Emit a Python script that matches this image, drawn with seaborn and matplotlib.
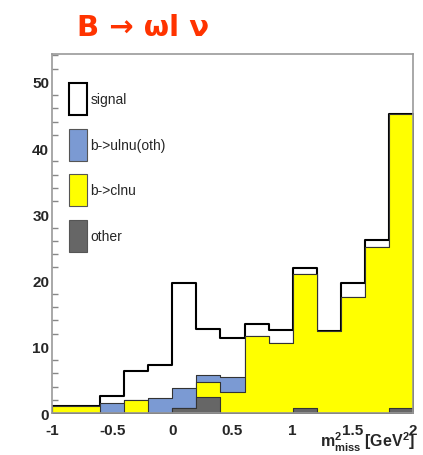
import numpy as np
import pandas as pd
import matplotlib
matplotlib.use("Agg")
import matplotlib.pyplot as plt
from matplotlib.patches import Patch
from matplotlib.ticker import MultipleLocator
import seaborn as sns

# ---- data ----
bin_edges = [-1.0, -0.8, -0.6, -0.4, -0.2, 0.0, 0.2, 0.4, 0.6, 0.8, 1.0, 1.2, 1.4, 1.6, 1.8, 2.0]
signal = [0, 0, 1.1, 4.4, 5.0, 16.0, 7.0, 5.9, 1.9, 1.9, 0.9, 0, 2.1, 1.0, 0]
b_ulnu = [0, 0, 1.5, 0, 2.2, 3.0, 1.0, 2.2, 0, 0, 0, 0, 0, 0, 0]
b_clnu = [1.0, 1.0, 0, 1.9, 0, 0, 2.3, 3.2, 11.6, 10.6, 20.3, 12.4, 17.5, 25.1, 44.5]
other = [0, 0, 0, 0, 0, 0.7, 2.4, 0, 0, 0, 0.7, 0, 0, 0, 0.7]
labels = ["signal", "b->ulnu(oth)", "b->clnu", "other"]
colors = ["white", "#7b9ad3", "#ffff00", "#666666"]
y_ticks = [0, 10, 20, 30, 40, 50]
x_ticks = [-1, -0.5, 0, 0.5, 1, 1.5, 2]
x_tick_labels = ["-1", "-0.5", "0", "0.5", "1", "1.5", "2"]

sns.set_style("white")
plt.rcParams["font.family"] = ["Liberation Sans", "DejaVu Sans"]
plt.rcParams["mathtext.fontset"] = "custom"
plt.rcParams["mathtext.rm"] = "Liberation Sans:bold"
plt.rcParams["mathtext.it"] = "Liberation Sans:bold"
plt.rcParams["mathtext.bf"] = "Liberation Sans:bold"

edges = np.array(bin_edges)
centers = (edges[:-1] + edges[1:]) / 2
df = pd.DataFrame({"x": centers, "signal": signal, "ulnu": b_ulnu,
                   "clnu": b_clnu, "other": other})
# cumulative stack (bottom: other, then clnu, ulnu, signal on top)
df["lvl_other"] = df["other"]
df["lvl_clnu"] = df["lvl_other"] + df["clnu"]
df["lvl_ulnu"] = df["lvl_clnu"] + df["ulnu"]
df["lvl_signal"] = df["lvl_ulnu"] + df["signal"]

fig = plt.figure(figsize=(4.23, 4.56), dpi=100)
ax = fig.add_axes([52 / 423, 1 - 414 / 456, 361 / 423, 359 / 456])

layers = [("lvl_signal", colors[0], "black", 1.5),
          ("lvl_ulnu", colors[1], "#333333", 0.8),
          ("lvl_clnu", colors[2], "#333333", 0.8),
          ("lvl_other", colors[3], "#333333", 0.8)]
for col, fc, ec, lw in layers:
    sns.histplot(data=df, x="x", weights=col, bins=list(bin_edges), element="step",
                 fill=True, facecolor=fc, edgecolor=ec, linewidth=lw,
                 alpha=1, ax=ax)

ax.set_xlim(-1, 2)
ax.set_ylim(0, 54.2)
ax.set_xlabel("")
ax.set_ylabel("")
ax.set_yticks(y_ticks)
ax.set_yticklabels([str(v) for v in y_ticks], fontsize=11, fontweight="bold")
ax.yaxis.set_minor_locator(MultipleLocator(2))
ax.set_xticks(x_ticks)
ax.set_xticklabels(x_tick_labels, fontsize=11, fontweight="bold")
ax.tick_params(axis="y", which="major", direction="in", length=8, width=1,
               color="#888888", pad=2)
ax.tick_params(axis="y", which="minor", direction="in", length=4, width=1,
               color="#888888", left=True)
ax.tick_params(axis="x", which="both", length=0, pad=7)
for s in ax.spines.values():
    s.set_color("#999999")
    s.set_linewidth(1.2)

handles = [Patch(facecolor=c, edgecolor=("black" if i == 0 else "#555555"),
                 linewidth=(1.5 if i == 0 else 0.8)) for i, c in enumerate(colors)]
ax.legend(handles, labels, loc="upper left", bbox_to_anchor=(0.047, 0.919),
          frameon=False, fontsize=10, handlelength=1.3, handleheight=3.2,
          labelspacing=0.95, handletextpad=0.25, borderpad=0, borderaxespad=0)

fig.text(143 / 423, 1 - 36 / 456, "B \u2192 \u03c9l \u03bd", color="#ff3300",
         fontsize=21, fontweight="bold", ha="center", va="baseline",
         family=["DejaVu Sans"])
fig.text(415 / 423, 8 / 456, r"$m^{2}_{miss}$ [GeV$^{2}$]", fontsize=11.5,
         fontweight="bold", ha="right", va="baseline")

fig.savefig("out.png", dpi=100)
